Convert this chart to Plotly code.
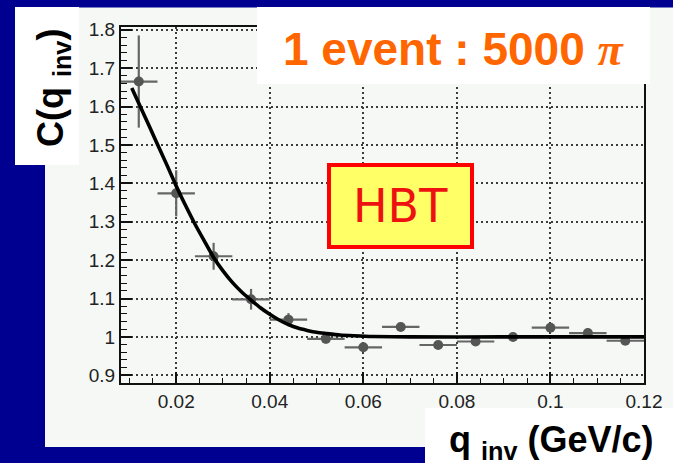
import plotly.graph_objects as go

# Measured two-pion correlation, one event with 5000 pions
q_inv = [0.012, 0.020, 0.028, 0.036, 0.044, 0.052, 0.060, 0.068, 0.076, 0.084, 0.092, 0.100, 0.108, 0.116]
c_val = [1.665, 1.374, 1.210, 1.098, 1.045, 0.995, 0.973, 1.026, 0.979, 0.988, 1.000, 1.024, 1.010, 0.990]
c_err = [0.120, 0.060, 0.035, 0.027, 0.017, 0.012, 0.010, 0.010, 0.010, 0.010, 0.010, 0.010, 0.010, 0.010]
q_half_bin = [0.004, 0.004, 0.004, 0.004, 0.004, 0.004, 0.004, 0.004, 0.004, 0.004, 0.004, 0.004, 0.004, 0.004]

# Fitted correlation function, sampled along q_inv
fit_q = [0.0105, 0.013, 0.0155, 0.018, 0.020, 0.022, 0.024, 0.026, 0.028, 0.030, 0.032,
         0.034, 0.036, 0.038, 0.040, 0.042, 0.044, 0.046, 0.048, 0.050, 0.052, 0.055,
         0.058, 0.062, 0.070, 0.090, 0.120]
fit_c = [1.648, 1.582, 1.515, 1.448, 1.393, 1.342, 1.294, 1.250, 1.207, 1.172, 1.142,
         1.117, 1.096, 1.076, 1.059, 1.044, 1.032, 1.023, 1.017, 1.012, 1.009, 1.005,
         1.003, 1.001, 1.000, 1.000, 1.000]

# Axis ticks
x_tick_vals = [0.02, 0.04, 0.06, 0.08, 0.10, 0.12]
x_tick_text = ["0.02", "0.04", "0.06", "0.08", "0.1", "0.12"]
y_tick_vals = [0.9, 1.0, 1.1, 1.2, 1.3, 1.4, 1.5, 1.6, 1.7, 1.8]
y_tick_text = ["0.9", "1", "1.1", "1.2", "1.3", "1.4", "1.5", "1.6", "1.7", "1.8"]

W, H = 673, 463
L, R, T, B = 121, 29, 27, 80
PW, PH = W - L - R, H - T - B


def px(xp):
    return (xp - L) / PW


def py(yp):
    return (H - B - yp) / PH


def box(x0, y0, x1, y1, fill, line_color=None, line_width=0, layer="above"):
    return dict(type="rect", xref="paper", yref="paper",
                x0=px(x0), x1=px(x1), y0=py(y1), y1=py(y0),
                fillcolor=fill, layer=layer,
                line=dict(color=line_color or fill, width=line_width))


fig = go.Figure()

fig.add_trace(go.Scatter(
    x=q_inv, y=c_val, mode="markers",
    marker=dict(size=10, color="#555555"),
    error_y=dict(type="data", array=c_err, color="#666666", thickness=2.2, width=0),
    error_x=dict(type="data", array=q_half_bin, color="#666666", thickness=2.2, width=0),
    showlegend=False,
))

fig.add_trace(go.Scatter(
    x=fit_q, y=fit_c, mode="lines",
    line=dict(color="#000000", width=3.6, shape="spline", smoothing=0.6),
    showlegend=False,
))

axis_font = dict(family="Liberation Sans, Arial, sans-serif", size=19, color="#222222")

fig.update_xaxes(
    range=[0.0082, 0.12], tickmode="array", tickvals=x_tick_vals, ticktext=x_tick_text,
    ticks="inside", ticklen=11, tickwidth=1.5, tickcolor="#111111",
    showline=True, linecolor="#111111", linewidth=2, mirror=True,
    showgrid=True, gridcolor="#3c3c3c", gridwidth=1.6, griddash="2px,3px",
    zeroline=False, tickfont=axis_font,
    minor=dict(tickmode="linear", tick0=0, dtick=0.005, ticks="inside",
               ticklen=5, tickwidth=1.2, tickcolor="#111111", showgrid=False),
)
fig.update_yaxes(
    range=[0.880, 1.807], tickmode="array", tickvals=y_tick_vals, ticktext=y_tick_text,
    ticks="inside", ticklen=11, tickwidth=1.5, tickcolor="#111111",
    showline=True, linecolor="#111111", linewidth=2, mirror=True,
    showgrid=True, gridcolor="#3c3c3c", gridwidth=1.6, griddash="2px,3px",
    zeroline=False, tickfont=axis_font,
    minor=dict(tickmode="linear", tick0=0, dtick=0.02, ticks="inside",
               ticklen=6, tickwidth=1.2, tickcolor="#111111", showgrid=False),
)

shapes = [
    box(45, 7.5, 673, 447, "#f5f8f5", layer="below"),
    box(15, 7, 79, 165, "#ffffff"),
    box(257, 7, 650, 84, "#ffffff"),
    box(329, 165, 472, 247, "#ffff66", line_color="#ff0000", line_width=4),
    box(425, 408, 673, 463, "#ffffff"),
]

bold = "Liberation Sans, Arial, sans-serif"
annotations = [
    dict(text="1 event : 5000 <span style=\"font-family:'Liberation Serif', serif; font-style:italic\">π</span>",
         x=px(454), y=py(49), xref="paper", yref="paper", showarrow=False,
         xanchor="center", yanchor="middle",
         font=dict(family=bold, size=46, color="#ff6600", weight="bold")),
    dict(text="C(q <sub>inv</sub>)", textangle=-90,
         x=px(53), y=py(88), xref="paper", yref="paper", showarrow=False,
         xanchor="center", yanchor="middle",
         font=dict(family=bold, size=36, color="#000000", weight="bold")),
    dict(text="q <sub>inv</sub> (GeV/c)",
         x=px(551), y=py(442), xref="paper", yref="paper", showarrow=False,
         xanchor="center", yanchor="middle",
         font=dict(family=bold, size=36, color="#000000", weight="bold")),
    dict(text="HBT",
         x=px(400), y=py(206), xref="paper", yref="paper", showarrow=False,
         xanchor="center", yanchor="middle",
         font=dict(family="Comic Sans MS, DejaVu Sans, sans-serif", size=46, color="#ee1111")),
]

fig.update_layout(
    width=W, height=H,
    margin=dict(l=L, r=R, t=T, b=B, pad=0),
    paper_bgcolor="#000090",
    plot_bgcolor="#f5f8f5",
    shapes=shapes,
    annotations=annotations,
)

fig.write_html("out.html")
